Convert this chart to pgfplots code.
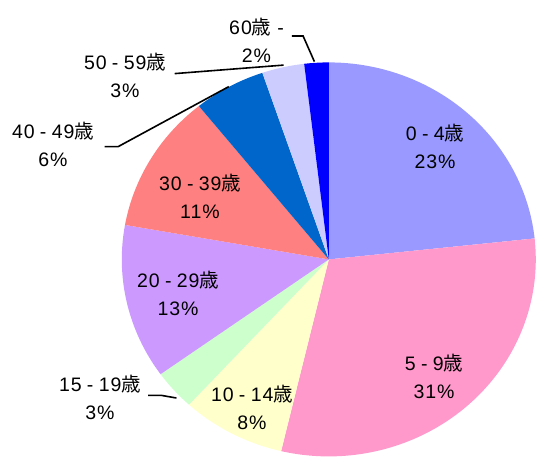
\documentclass[border=0pt]{standalone}
\usepackage{pgfplots}
\pgfplotsset{compat=1.18}
\usepackage{fontspec}
\setmainfont{Liberation Sans}[LetterSpace=5]
\newfontfamily\jp{Noto Sans CJK JP}
\newcommand\sai{{\jp 歳}}
\newcommand\sep{\hspace{0.27em}-\hspace{0.27em}}
\newcommand\lbl{\fontsize{19.5bp}{28bp}\selectfont}
\definecolor{c1}{HTML}{9999FF}
\definecolor{c2}{HTML}{FF99CC}
\definecolor{c3}{HTML}{FFFFCC}
\definecolor{c4}{HTML}{CCFFCC}
\definecolor{c5}{HTML}{CC99FF}
\definecolor{c6}{HTML}{FF8080}
\definecolor{c7}{HTML}{0066CC}
\definecolor{c8}{HTML}{CCCCFF}
\definecolor{c9}{HTML}{0000FF}
% running start angle (pie starts at 12 o'clock, goes clockwise)
\gdef\aStart{90}
\newcommand\slice[2]{%
  \pgfmathsetmacro\aEnd{\aStart-3.6*#2}%
  \edef\temp{\noexpand\addplot[fill=#1, draw=none, domain=\aEnd:\aStart, samples=80, data cs=polar] (x,1) -- (axis cs:0,0) -- cycle;}%
  \temp
  \global\let\aStart\aEnd
}
\newcommand\px[2]{(axis cs:{(#1-328.8)/207},{(259.4-#2)/197})}
\begin{document}
\begin{tikzpicture}
\begin{axis}[scale only axis, width=537bp, height=457bp,
  xmin=-1.5884, xmax=1.0058, ymin=-1.0030, ymax=1.3168,
  hide axis, clip=false]
% shares in percent
\slice{c1}{23.3}% 0-4
\slice{c2}{30.4}% 5-9
\slice{c3}{8.1}%  10-14
\slice{c4}{3.3}%  15-19
\slice{c5}{12.7}% 20-29
\slice{c6}{11.4}% 30-39
\slice{c7}{5.6}%  40-49
\slice{c8}{3.3}%  50-59
\slice{c9}{1.9}%  60-
% leader lines
\draw[line width=1.6bp] \px{104.5}{146.6} -- \px{118.2}{146.6} -- \px{228.8}{86.6};
\draw[line width=1.6bp] \px{174.7}{73.6} -- \px{283.6}{65.1};
\draw[line width=1.6bp] \px{291.8}{36} -- \px{303.1}{36} -- \px{314.4}{61.6};
\draw[line width=1.6bp] \px{148}{395.3} -- \px{161}{395.3} -- \px{176.4}{398};
% labels
\node[font=\lbl, align=center] at \px{435}{146} {0\sep4\sai\\23\%};
\node[font=\lbl, align=center] at \px{434}{376} {5\sep9\sai\\31\%};
\node[font=\lbl, align=center] at \px{252}{407} {10\sep14\sai\\8\%};
\node[font=\lbl, align=center] at \px{100}{397} {15\sep19\sai\\3\%};
\node[font=\lbl, align=center] at \px{178}{293.5} {20\sep29\sai\\13\%};
\node[font=\lbl, align=center] at \px{200}{196} {30\sep39\sai\\11\%};
\node[font=\lbl, align=center] at \px{53}{144.5} {40\sep49\sai\\6\%};
\node[font=\lbl, align=center] at \px{125}{75} {50\sep59\sai\\3\%};
\node[font=\lbl, align=center] at \px{256.5}{40} {60\sai\hspace{0.3em}-\\2\%};
\end{axis}
\pgfresetboundingbox
\path (current axis.south west) rectangle (current axis.north east);
\end{tikzpicture}
\end{document}
